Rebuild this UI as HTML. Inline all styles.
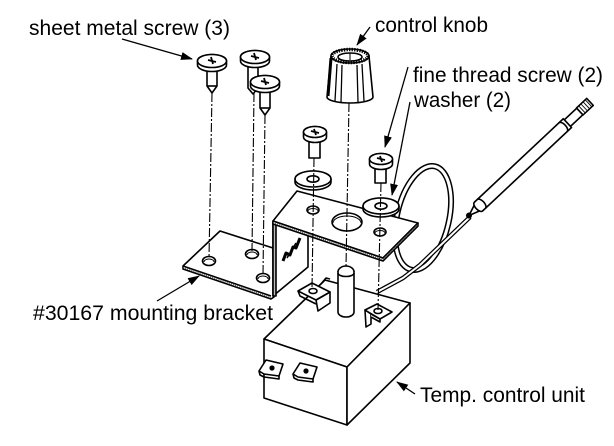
<!DOCTYPE html>
<html><head><meta charset="utf-8"><style>
html,body{margin:0;padding:0;background:#fff;}
svg{display:block;}
text{font-family:"Liberation Sans",Arial,sans-serif;font-size:21px;fill:#000;}
</style></head><body>
<svg width="614" height="446" viewBox="0 0 614 446" xmlns="http://www.w3.org/2000/svg">
<defs>
<marker id="ah" markerUnits="userSpaceOnUse" markerWidth="12" markerHeight="8" refX="11" refY="4" orient="auto"><path d="M0,0 L12,4 L0,8 z" fill="#000"/></marker>
</defs>

<!-- capillary loop (behind bracket) -->
<g fill="none">
<ellipse cx="423" cy="218" rx="26" ry="53" transform="rotate(13 423 218)" stroke="#000" stroke-width="6"/>
<ellipse cx="423" cy="218" rx="26" ry="53" transform="rotate(13 423 218)" stroke="#fff" stroke-width="3"/>
<path d="M470,217 L420,265 L403,278 L377,292" stroke="#000" stroke-width="4.5" stroke-linejoin="round"/>
<path d="M470,217 L420,265 L403,278 L377,292" stroke="#fff" stroke-width="2" stroke-linejoin="round"/>
</g>

<g fill="#fff" stroke="#000" stroke-width="1.6" stroke-linejoin="round">
<!-- control unit box -->
<path d="M264,339 L325,280 L410,303 L347,367 Z"/>
<path d="M264,339 L347,367 L347,425 L264,398 Z"/>
<path d="M347,367 L410,303 L410,363 L347,425 Z"/>
<path d="M321,284 L326,278 L330,279" fill="none"/>
<!-- front terminals -->
<path d="M259,371 L266,360 L283,364 L279,376 L264,374 Z"/>
<path d="M259,371 L260,375 L264,377 L279,379 L279,376" fill="none"/>
<circle cx="272" cy="368" r="1.8" fill="#000"/>
<path d="M293,374 L300,363 L317,367 L313,379 L298,377 Z"/>
<path d="M293,374 L294,378 L298,380 L313,382 L313,379" fill="none"/>
<circle cx="306" cy="371" r="1.8" fill="#000"/>
<!-- top terminals -->
<path d="M316,300 L330,292 L330,303 L318,311 Z"/>
<path d="M298,291 L312,283 L330,292 L316,300 Z"/>
<path d="M298,291 L300,296 L316,304" fill="none"/>
<ellipse cx="313" cy="291" rx="4" ry="2.5"/>
<path d="M365,310 L371,314 L371,324 L366,327 Z"/>
<path d="M365,310 L377,304 L392,312 L380,319 Z"/>
<path d="M371,314 L380,319 L380,322 L371,317" />
<ellipse cx="378" cy="311" rx="4" ry="2.5"/>
<!-- shaft -->
<path d="M338,271 L338,312 A8,5 0 0 0 354,312 L354,271"/>
<path d="M338,272 A8,6 0 0 1 354,272"/>
<path d="M338,273 A8,3.5 0 0 0 354,273" fill="none"/>

<!-- lower flange -->
<path d="M220,231 L183,266 L183,269 L271,299 L274,297 L273,248 Z"/>
<path d="M183,266 L271,296" fill="none"/>
<path d="M183,267.5 L271,297.5" fill="none" stroke-width="1.2" stroke-dasharray="1 1.2" stroke="#555"/>
<ellipse cx="209" cy="261" rx="6.5" ry="4.5"/>
<path d="M204,262 A5,3 0 0 1 214,262" fill="none" stroke-width="1"/>
<ellipse cx="252" cy="254" rx="6.5" ry="4.5"/>
<path d="M247,255 A5,3 0 0 1 257,255" fill="none" stroke-width="1"/>
<ellipse cx="263" cy="278" rx="6.5" ry="4.5"/>
<path d="M258,279 A5,3 0 0 1 268,279" fill="none" stroke-width="1"/>
<!-- wall -->
<path d="M273,222 L308,234 L308,267 L273,296 Z"/>
<rect x="273" y="222" width="3" height="74" fill="#bbb"/>
<path d="M283,261 L286,253 L290,255 L293,247 L296,248 L300,238" fill="none" stroke-width="3"/>
<path d="M287,258 L296,243" fill="none" stroke-width="1.5"/>
<!-- upper plate -->
<path d="M273,221 L297,191 L418,223 L383,258 Z"/>
<path d="M273,221 L273,224 L383,261 L418,226 L418,223 L383,258 Z"/>
<path d="M273,222.5 L383,259.5 L418,224.5" fill="none" stroke-width="1.2" stroke-dasharray="1 1.2" stroke="#555"/>
<ellipse cx="313" cy="210" rx="6" ry="4"/>
<path d="M308,211 A5,2.5 0 0 1 318,211" fill="none" stroke-width="1"/>
<ellipse cx="347" cy="222" rx="15" ry="9"/>
<path d="M333,223 A14,7 0 0 1 361,223" fill="none" stroke-width="1"/>
<ellipse cx="380" cy="232" rx="6" ry="4"/>
<path d="M375,233 A5,2.5 0 0 1 385,233" fill="none" stroke-width="1"/>

<!-- washers -->
<path d="M295,179 A18,8 0 0 1 331,179 L331,182 A18,8 0 0 1 295,182 Z"/>
<ellipse cx="313" cy="179" rx="18" ry="8"/>
<ellipse cx="313" cy="179" rx="6" ry="3.2"/>
<path d="M363,206 A18,8 0 0 1 399,206 L399,209 A18,8 0 0 1 363,209 Z"/>
<ellipse cx="381" cy="206" rx="18" ry="8"/>
<ellipse cx="381" cy="206" rx="6" ry="3.2"/>
</g>

<!-- dashed center lines -->
<g stroke="#000" stroke-width="1.1" stroke-dasharray="9 2 2 2" fill="none">
<line x1="212" y1="93" x2="209" y2="258"/>
<line x1="254" y1="93" x2="252" y2="251"/>
<line x1="265" y1="115" x2="263" y2="275"/>
<line x1="349" y1="103" x2="346" y2="267"/>
<line x1="314" y1="158" x2="312" y2="289"/>
<line x1="381" y1="183" x2="378" y2="310"/>
</g>

<g fill="#fff" stroke="#000" stroke-width="1.6" stroke-linejoin="round">
<!-- sheet metal screw B (behind C) -->
<path d="M248,64 L248,88 L253,94 L258,88 L258,64 Z"/>
<path d="M240.5,57 A14.5,6.5 0 0 1 269.5,57 L269.5,61 A14.5,6.5 0 0 1 240.5,61 Z"/>
<ellipse cx="255" cy="57" rx="14.5" ry="6.5"/>
<path d="M251,56 L259,58 M254,53 L256,60" stroke-width="1.8" fill="none"/>
<!-- screw A -->
<path d="M207,70 L207,86 L212,93 L217,86 L217,70 Z"/>
<path d="M207,86 L217,86" fill="none"/>
<path d="M197.5,61 A14.5,6.5 0 0 1 226.5,61 L226.5,65 A14.5,6.5 0 0 1 197.5,65 Z"/>
<ellipse cx="212" cy="61" rx="14.5" ry="6.5"/>
<path d="M208,60 L216,62 M211,57 L213,64" stroke-width="1.8" fill="none"/>
<!-- screw C -->
<path d="M260,91 L260,108 L265,115 L270,108 L270,91 Z"/>
<path d="M260,108 L270,108" fill="none"/>
<path d="M250.5,82 A14.5,6.5 0 0 1 279.5,82 L279.5,86 A14.5,6.5 0 0 1 250.5,86 Z"/>
<ellipse cx="265" cy="82" rx="14.5" ry="6.5"/>
<path d="M261,81 L269,83 M264,78 L266,85" stroke-width="1.8" fill="none"/>

<!-- fine thread screws -->
<rect x="309" y="140" width="11" height="18"/>
<path d="M303.5,132 A11.5,5.5 0 0 1 326.5,132 L326.5,137 A11.5,5.5 0 0 1 303.5,137 Z"/>
<ellipse cx="315" cy="132" rx="11.5" ry="5.5"/>
<path d="M311,131 L319,133 M314,129 L316,135" stroke-width="1.8" fill="none"/>
<rect x="375" y="167" width="11" height="16"/>
<path d="M369.5,159 A11.5,5.5 0 0 1 392.5,159 L392.5,164 A11.5,5.5 0 0 1 369.5,164 Z"/>
<ellipse cx="381" cy="159" rx="11.5" ry="5.5"/>
<path d="M377,158 L385,160 M380,156 L382,162" stroke-width="1.8" fill="none"/>

<!-- control knob -->
<path d="M331,56 L327,97 A23,6 0 0 0 373,97 L369,56 Z"/>
<ellipse cx="350" cy="56" rx="19" ry="7"/>
<ellipse cx="350" cy="56" rx="18" ry="6.5" fill="none" stroke-width="3.5" stroke-dasharray="1.4 1.2"/>
<ellipse cx="350" cy="57" rx="12" ry="4"/>
<path d="M350,53 L350,60" fill="none" stroke-width="1"/>
<path d="M337,64 L335,101 M342,65 L341,102 M357,65 L358,102 M362,64 L364,101" fill="none" stroke-width="1.3"/>
<path d="M331,58 L328,96" fill="none" stroke-width="3"/>
</g>

<!-- sensor bulb -->
<g transform="translate(477,208) rotate(-43.2)" fill="#fff" stroke="#000" stroke-width="1.6" stroke-linejoin="round">
<path d="M0,-4 L-11,0 L0,4" fill="#fff"/>
<circle cx="-11" cy="0" r="2.2" fill="#000"/>
<path d="M124,-4.5 L141,-4.5 L141,4.5 L124,4.5 Z"/>
<path d="M141,-4.8 L155,-4.8 L155,4.8 L141,4.8 Z"/>
<path d="M144,-4.8 L144,4.8 M147,-4.8 L147,4.8 M150,-4.8 L150,4.8 M153,-4.8 L153,4.8" stroke-width="0.9"/>
<path d="M2,-6 L124,-6 L124,6 L2,6 A3,6 0 0 1 2,-6 Z"/>
<path d="M118,-6 A3,6 0 0 1 118,6" fill="none"/>
<path d="M6,-6 A3,6 0 0 1 6,6" fill="none"/>
</g>

<!-- leaders -->
<g stroke="#000" stroke-width="1.3" fill="none" marker-end="url(#ah)">
<line x1="122" y1="39" x2="192" y2="59"/>
<line x1="370" y1="27" x2="357" y2="45"/>
<line x1="408" y1="67" x2="385" y2="147"/>
<line x1="410" y1="102" x2="392" y2="195"/>
<line x1="157" y1="301" x2="199" y2="276"/>
<line x1="415" y1="394" x2="397" y2="382"/>
</g>

<!-- labels -->
<text x="29" y="35" textLength="201" lengthAdjust="spacingAndGlyphs">sheet metal screw (3)</text>
<text x="375" y="32" textLength="113" lengthAdjust="spacingAndGlyphs">control knob</text>
<text x="413" y="82" textLength="190" lengthAdjust="spacingAndGlyphs">fine thread screw (2)</text>
<text x="414" y="107" textLength="97" lengthAdjust="spacingAndGlyphs">washer (2)</text>
<text x="33" y="320" textLength="240" lengthAdjust="spacingAndGlyphs">#30167 mounting bracket</text>
<text x="420" y="402" textLength="165" lengthAdjust="spacingAndGlyphs">Temp. control unit</text>
</svg>
</body></html>
